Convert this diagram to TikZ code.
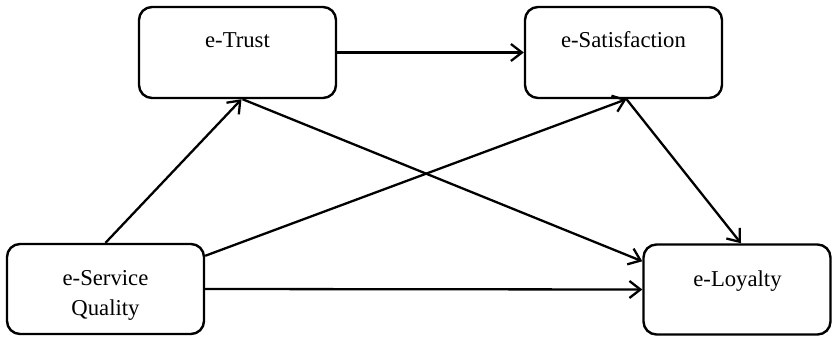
\documentclass[tikz,border=0pt]{standalone}
\usepackage{fontspec}
\setmainfont{Liberation Serif}
\usetikzlibrary{arrows.meta,calc}
\begin{document}
\begin{tikzpicture}[x=1pt,y=-1pt,
  box/.style={draw,line width=2.4pt,rectangle,rounded corners=13pt,inner sep=0pt,
    minimum width=197pt,minimum height=91pt},
  lbl/.style={font=\fontsize{22.7}{30}\selectfont,inner sep=0pt,anchor=base,align=center},
  link/.style={line width=2.3pt,-{Straight Barb[length=11pt,width=17pt]}}]
\useasboundingbox (0,0) rectangle (832,337);
\node[box] (trust) at (237.5,52.5) {};
\node[box] (sat) at (623.5,52.5) {};
\node[box,minimum height=90pt] (sq) at (105.5,289) {};
\node[box,minimum height=90pt,minimum width=187pt] (loy) at (737,289.5) {};
\node[lbl] (ttrust) at (237.5,48) {e-Trust};
\node[lbl] (tsat) at (623.5,48) {e-Satisfaction};
\node[lbl] (tsq) at (105.5,315) {e-Service\\Quality};
\node[lbl] (tloy) at (737.5,286) {e-Loyalty};
\draw[link] (trust.east) -- (sat.west);
\draw[link] (sq.north) -- ($(trust.south)+(4,0)$);
\draw[link] ($(trust.south)+(5,0)$) -- ($(loy.north west)+(0,18)$);
\draw[link] ($(sq.north east)+(0,13)$) -- ($(sat.south)+(3,0)$);
\draw[link] ($(sat.south)+(3,0)$) -- ($(loy.north)+(4,0)$);
\draw[link] (sq.east) -- (loy.west);
\end{tikzpicture}
\end{document}
